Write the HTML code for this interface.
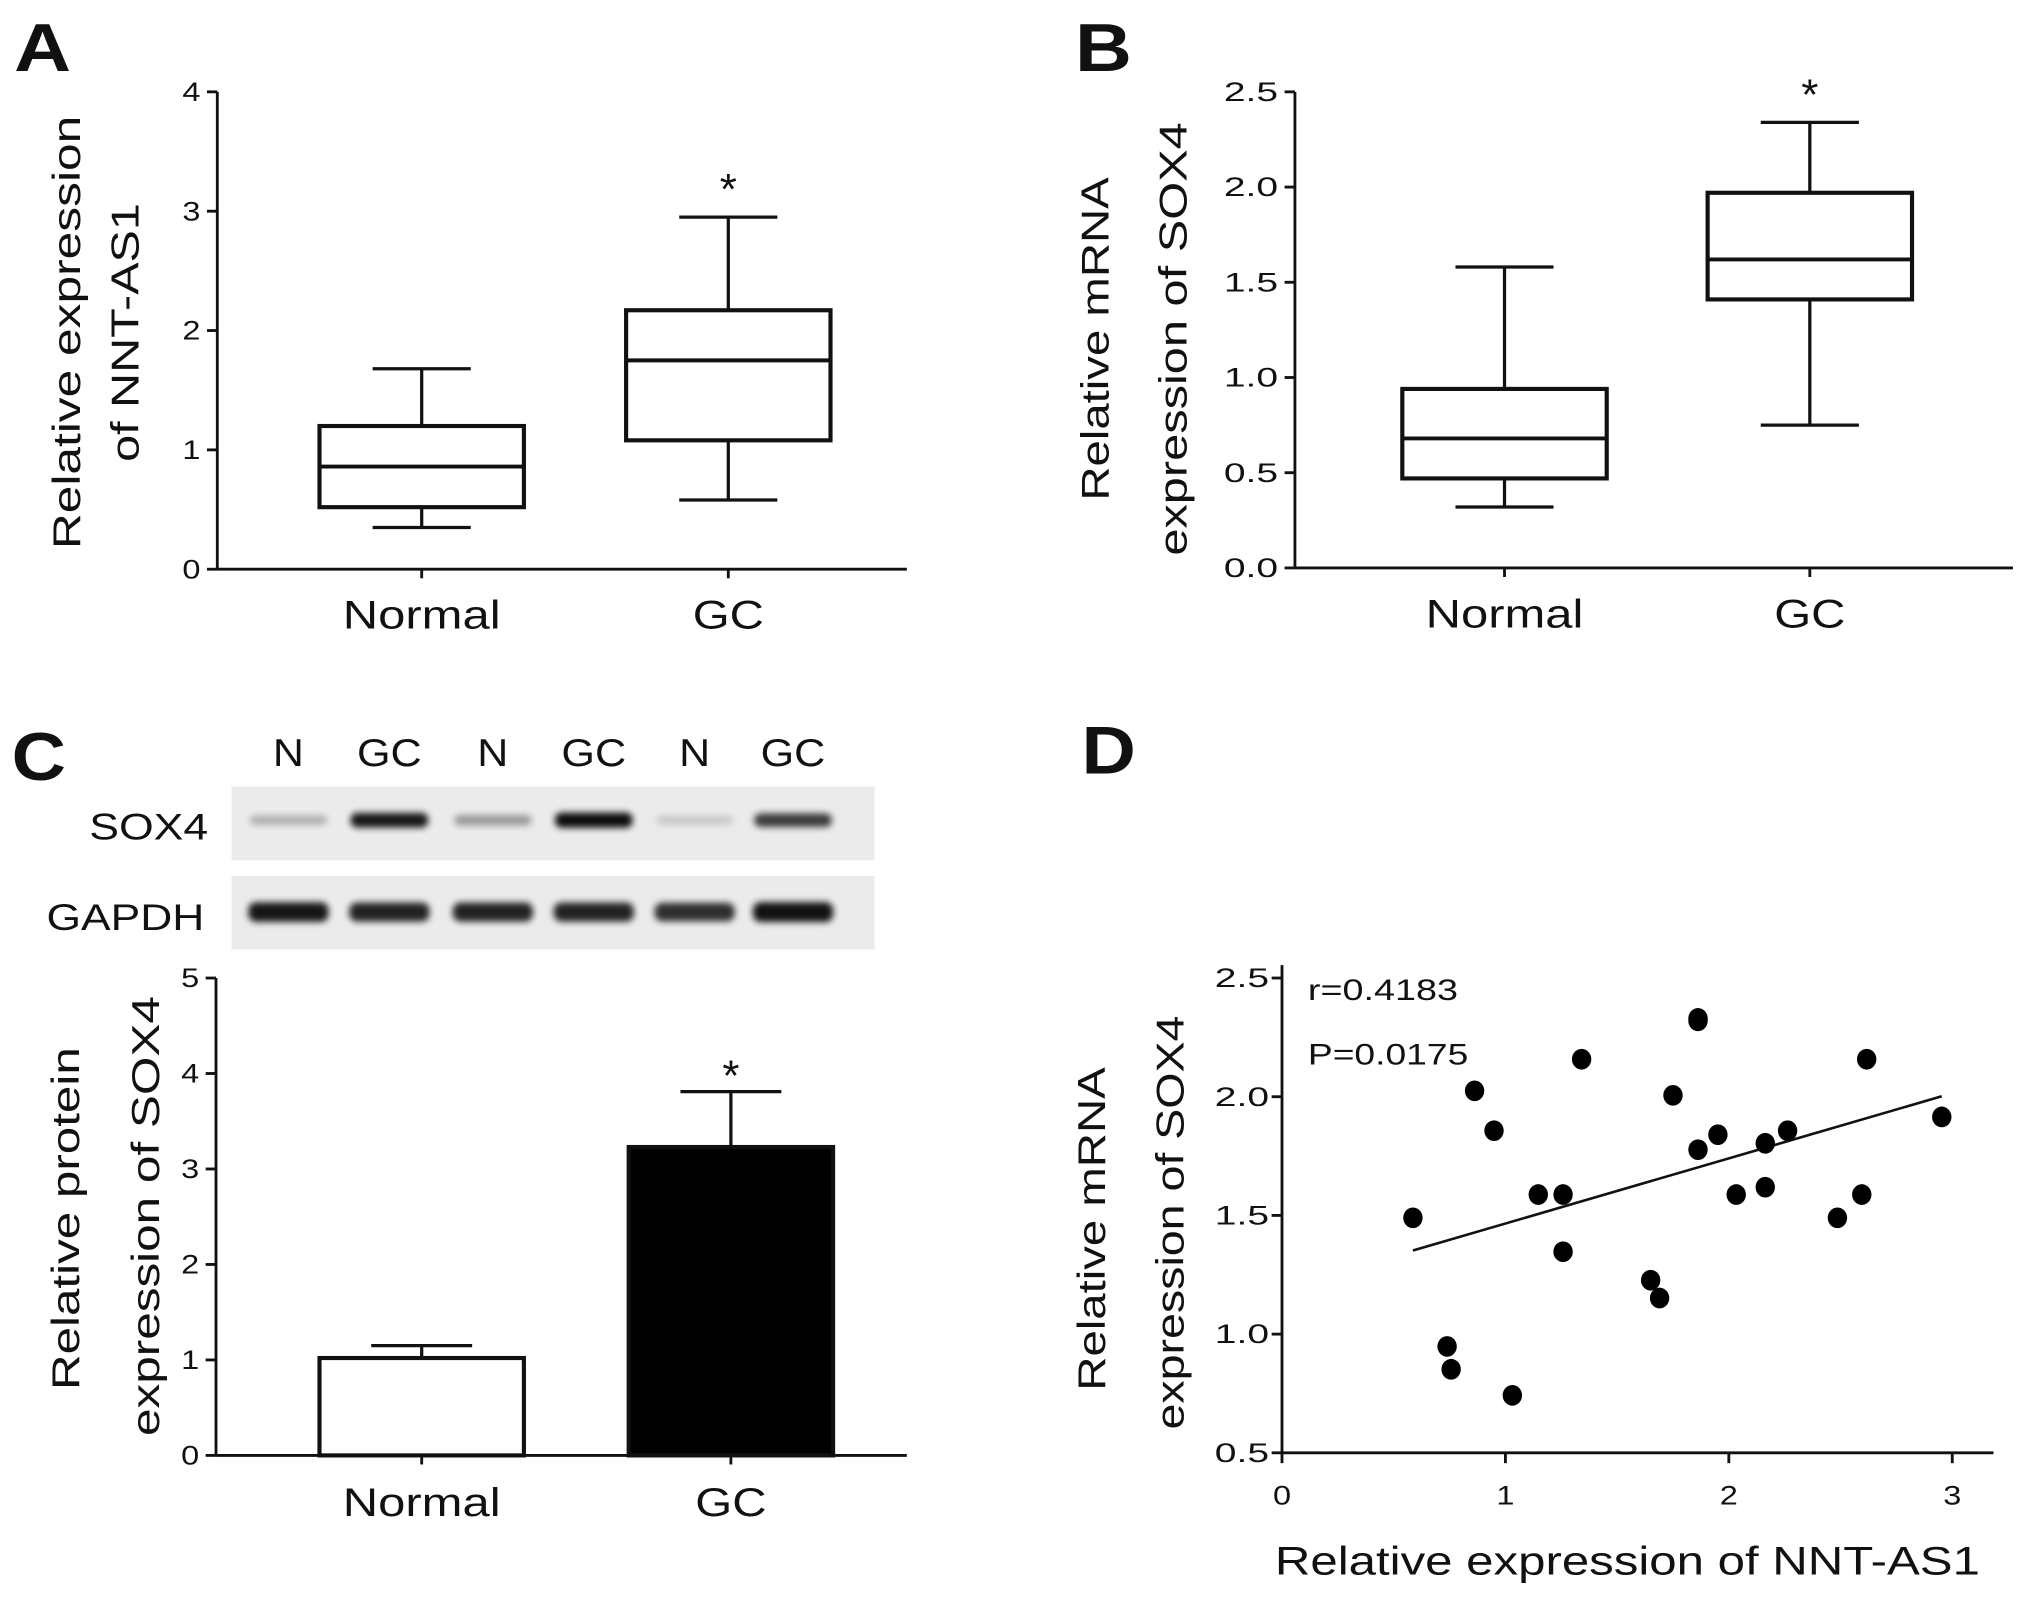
<!DOCTYPE html>
<html><head><meta charset="utf-8"><style>
html,body{margin:0;padding:0;background:#fff}
svg{display:block}
text{font-family:"Liberation Sans",Arial,sans-serif;fill:#111}
</style></head><body>
<svg id="fig" width="2031" height="1599" viewBox="0 0 1568 1236" xmlns="http://www.w3.org/2000/svg"></svg>
<script>
// ---- Data ----
const boxCategories = ["Normal", "GC"];
// [min, q1, median, q3, max]
const boxA_normal = [0.35, 0.52, 0.86, 1.20, 1.68];
const boxA_gc = [0.58, 1.08, 1.75, 2.17, 2.95];
const boxA_ticks = ["0", "1", "2", "3", "4"];
const boxB_normal = [0.32, 0.47, 0.68, 0.94, 1.58];
const boxB_gc = [0.75, 1.41, 1.62, 1.97, 2.34];
const boxB_ticks = ["0.0", "0.5", "1.0", "1.5", "2.0", "2.5"];
const barCategories = ["Normal", "GC"];
const barMeans = [1.02, 3.23];
const barErrors = [0.13, 0.58];
const barTicks = ["0", "1", "2", "3", "4", "5"];
const blotLanes = ["N", "GC", "N", "GC", "N", "GC"];
const sox4Intensity = [0.25, 0.9, 0.35, 0.95, 0.15, 0.75];
const gapdhIntensity = [0.9, 0.85, 0.85, 0.85, 0.8, 0.92];
const scatterX = [0.586, 0.862, 0.949, 0.739, 0.757, 1.031, 1.147, 1.258, 1.258, 1.341, 1.650, 1.690, 1.750, 1.862, 1.862, 1.862, 1.951, 2.033, 2.163, 2.163, 2.263, 2.486, 2.595, 2.617, 2.953];
const scatterY = [1.49, 2.025, 1.857, 0.948, 0.852, 0.742, 1.588, 1.588, 1.347, 2.158, 1.227, 1.152, 2.006, 2.33, 2.32, 1.777, 1.84, 1.588, 1.804, 1.619, 1.857, 1.49, 1.588, 2.158, 1.915];
const scatterXTicks = ["0", "1", "2", "3"];
const scatterYTicks = ["0.5", "1.0", "1.5", "2.0", "2.5"];

const NS = "http://www.w3.org/2000/svg";
const svg = document.getElementById("fig");
const HS = 1.28; // horizontal stretch of reference typography
function mk(tag, attrs, parent, txt) {
  const e = document.createElementNS(NS, tag);
  for (const k in attrs) e.setAttribute(k, attrs[k]);
  if (txt !== undefined) e.textContent = txt;
  (parent || svg).appendChild(e);
  return e;
}
function grp(name) {
  const g = mk("g", {});
  
  
  return g;
}
function label(g, x, y, s, size, name, opts, len) {
  const a = Object.assign({x: x, y: y, "font-size": size, "text-anchor": "middle"}, opts || {});
  if (len) { a.textLength = len; a.lengthAdjust = "spacingAndGlyphs"; }
  const t = mk("text", a, g, s);
  
  
  return t;
}
function tick(g, x, y, s, name, anchor) {
  // stretched small label
  const w = s.length * 11.5 * HS * 0.95;
  const t = label(g, x, y, s, 21, name, {"text-anchor": anchor || "middle"}, w);
  return t;
}
function line(g, x1, y1, x2, y2, w) {
  return mk("line", {x1, y1, x2, y2, stroke: "#111", "stroke-width": w || 2.2}, g);
}
function vtitle(g, x, y, s, size, name, len) {
  return label(g, x, y, s, size, name, {transform: `rotate(-90 ${x} ${y})`}, len);
}

// panel letters
[["A", 10, 55, 44], ["B", 830, 55, 44], ["C", 8, 603, 42], ["D", 835, 598, 42]].forEach(p => {
  label(svg, p[1], p[2], p[0], 52, "panel-label-" + p[0].toLowerCase(), {"text-anchor": "start", "font-weight": "bold"}, p[3]);
});

// ---- Box plots ----
function boxPanel(cfg) {
  const g = grp(cfg.name);
  const yS = v => cfg.y0 - (v - cfg.vmin) / (cfg.vmax - cfg.vmin) * (cfg.y0 - cfg.yTop);
  line(g, cfg.ax, cfg.yTop, cfg.ax, cfg.y0);
  line(g, cfg.ax, cfg.y0, cfg.xEnd, cfg.y0);
  cfg.ticks.forEach((tk, i) => {
    const v = cfg.vmin + i * cfg.step;
    const y = yS(v);
    line(g, cfg.ax - 8, y, cfg.ax, y);
    tick(g, cfg.ax - 13, y + 7, tk, "y-tick-label", "end");
  });
  line(g, cfg.centers[0], cfg.y0, cfg.centers[0], cfg.y0 + 7);
  line(g, cfg.centers[1], cfg.y0, cfg.centers[1], cfg.y0 + 7);
  [cfg.normal, cfg.gc].forEach((d, i) => {
    const cx = cfg.centers[i], hw = cfg.hw, cw = hw * 0.48;
    const b = grp("box-" + boxCategories[i].toLowerCase());
    g.appendChild(b);
    line(b, cx, yS(d[0]), cx, yS(d[1]), 2.5);
    line(b, cx, yS(d[3]), cx, yS(d[4]), 2.5);
    line(b, cx - cw, yS(d[0]), cx + cw, yS(d[0]), 2.5);
    line(b, cx - cw, yS(d[4]), cx + cw, yS(d[4]), 2.5);
    mk("rect", {x: cx - hw, y: yS(d[3]), width: hw * 2, height: yS(d[1]) - yS(d[3]), fill: "#fff", stroke: "#111", "stroke-width": 3.2}, b);
    line(b, cx - hw, yS(d[2]), cx + hw, yS(d[2]), 3);
    label(g, cx, cfg.y0 + 46, boxCategories[i], 31, "x-category-label", null, i === 0 ? 122 : 55);
  });
  label(g, cfg.centers[1], yS(cfg.gc[4]) - 10, "*", 34, "significance-star");
  cfg.titles.forEach((t, i) => vtitle(g, cfg.titleX[i], cfg.titleY, t, 30, "y-axis-title", cfg.titleLen[i]));
}
boxPanel({name: "panel-a-boxplot", ax: 167, yTop: 71, y0: 440, vmin: 0, vmax: 4, step: 1, xEnd: 700,
  ticks: boxA_ticks, centers: [325, 562], hw: 79, normal: boxA_normal, gc: boxA_gc,
  titles: ["Relative expression", "of NNT-AS1"], titleX: [61, 106], titleY: 257, titleLen: [335, 200]});
boxPanel({name: "panel-b-boxplot", ax: 1000, yTop: 71, y0: 439, vmin: 0, vmax: 2.5, step: 0.5, xEnd: 1555,
  ticks: boxB_ticks, centers: [1162, 1398], hw: 79, normal: boxB_normal, gc: boxB_gc,
  titles: ["Relative mRNA", "expression of SOX4"], titleX: [856, 916], titleY: 262, titleLen: [250, 335]});

// ---- Western blot ----
(function () {
  const g = grp("panel-c-western-blot");
  const lx = [222, 300, 380, 458, 536, 612];
  blotLanes.forEach((l, i) => label(g, lx[i], 592, l, 30, "lane-label", null, l.length === 1 ? 24 : 50));
  mk("rect", {x: 178, y: 608, width: 497, height: 57, fill: "#ebebeb"}, g);
  mk("rect", {x: 178, y: 677, width: 497, height: 57, fill: "#ebebeb"}, g);
  const defs = mk("defs", {}, g);
  const flt = mk("filter", {id: "blur", x: "-20%", y: "-50%", width: "140%", height: "200%"}, defs);
  mk("feGaussianBlur", {stdDeviation: "2.6"}, flt);
  lx.forEach((x, i) => {
    const s = sox4Intensity[i];
    const b1 = mk("rect", {x: x - 30, y: 634 - 3 - s * 3, width: 60, height: 6 + s * 6, rx: 5, fill: "#000", opacity: s, filter: "url(#blur)"}, g);
    
    
    const gg = gapdhIntensity[i];
    const b2 = mk("rect", {x: x - 31, y: 705 - 4 - gg * 4, width: 62, height: 8 + gg * 8, rx: 6, fill: "#000", opacity: gg, filter: "url(#blur)"}, g);
    
    
  });
  label(g, 160, 649, "SOX4", 29, "sox4-row-label", {"text-anchor": "end"}, 92);
  label(g, 157, 719, "GAPDH", 29, "gapdh-row-label", {"text-anchor": "end"}, 122);
})();

// ---- Bar chart ----
(function () {
  const g = grp("panel-c-bar-chart");
  const ax = 166, y0 = 1125, yTop = 756, vmax = 5;
  const yS = v => y0 - v / vmax * (y0 - yTop);
  line(g, ax, yTop, ax, y0); line(g, ax, y0, 700, y0);
  barTicks.forEach((t, i) => {
    const y = yS(i);
    line(g, ax - 8, y, ax, y);
    tick(g, ax - 13, y + 7, t, "y-tick-label", "end");
  });
  const centers = [325, 564], hw = 79;
  barCategories.forEach((c, i) => {
    const cx = centers[i];
    line(g, cx, y0, cx, y0 + 7);
    const top = barMeans[i] + barErrors[i];
    line(g, cx, yS(top), cx, yS(barMeans[i]), 2.5);
    line(g, cx - 39, yS(top), cx + 39, yS(top), 2.5);
    const r = mk("rect", {x: cx - hw, y: yS(barMeans[i]), width: hw * 2, height: y0 - yS(barMeans[i]),
      fill: i === 0 ? "#fff" : "#000", stroke: "#111", "stroke-width": 3.2}, g);
    
    
    label(g, cx, y0 + 47, c, 31, "x-category-label", null, i === 0 ? 122 : 55);
  });
  label(g, centers[1], yS(barMeans[1] + barErrors[1]) - 1, "*", 34, "significance-star");
  vtitle(g, 60, 942, "Relative protein", 30, "y-axis-title", 265);
  vtitle(g, 122, 940, "expression of SOX4", 30, "y-axis-title", 340);
})();

// ---- Scatter ----
(function () {
  const g = grp("panel-d-scatter");
  const ax = 990, y0 = 1123, xS = v => ax + v * 172.7, yS = v => y0 - (v - 0.5) * 183.5;
  line(g, ax, 746, ax, y0); line(g, ax, y0, 1540, y0);
  scatterYTicks.forEach((t, i) => {
    const y = yS(0.5 + i * 0.5);
    line(g, ax - 8, y, ax, y);
    tick(g, ax - 10, y + 7, t, "y-tick-label", "end");
  });
  scatterXTicks.forEach((t, i) => {
    const x = xS(i);
    line(g, x, y0, x, y0 + 8);
    tick(g, x, y0 + 40, t, "x-tick-label");
  });
  const n = scatterX.length;
  const mx = scatterX.reduce((a, b) => a + b, 0) / n, my = scatterY.reduce((a, b) => a + b, 0) / n;
  let sxy = 0, sxx = 0;
  for (let i = 0; i < n; i++) { sxy += (scatterX[i] - mx) * (scatterY[i] - my); sxx += (scatterX[i] - mx) ** 2; }
  const slope = sxy / sxx, icpt = my - slope * mx;
  const x1 = Math.min(...scatterX), x2 = Math.max(...scatterX);
  const fl = mk("line", {x1: xS(x1), y1: yS(icpt + slope * x1), x2: xS(x2), y2: yS(icpt + slope * x2), stroke: "#111", "stroke-width": 2}, g);
  
  
  for (let i = 0; i < n; i++) {
    const c = mk("ellipse", {cx: xS(scatterX[i]), cy: yS(scatterY[i]), rx: 7.5, ry: 8, fill: "#000"}, g);
    
    
  }
  label(g, 1010, 773, "r=0.4183", 23, "correlation-r", {"text-anchor": "start"}, 116);
  label(g, 1010, 823, "P=0.0175", 23, "p-value", {"text-anchor": "start"}, 124);
  label(g, 1257, 1217, "Relative expression  of NNT-AS1", 31, "x-axis-title", {"xml:space": "preserve"}, 545);
  vtitle(g, 853, 950, "Relative mRNA", 30, "y-axis-title", 250);
  vtitle(g, 914, 945, "expression of SOX4", 30, "y-axis-title", 320);
})();
</script>
</body></html>
